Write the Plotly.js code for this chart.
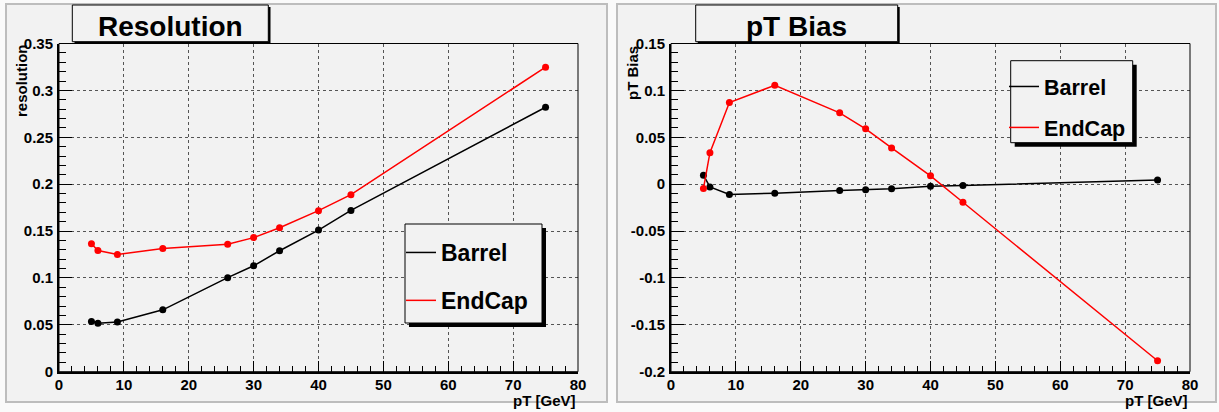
<!DOCTYPE html>
<html>
<head>
<meta charset="utf-8">
<script src="https://cdn.plot.ly/plotly-3.0.1.min.js"></script>
<style>
html,body{margin:0;padding:0;background:#fafafa;}
#chart{width:1219px;height:412px;}
</style>
</head>
<body>
<div id="chart"></div>
<script>
// ---- data ----
const pt = [5, 6, 9, 16, 26, 30, 34, 40, 45, 75];
const resBarrel = [0.0535, 0.0518, 0.0529, 0.066, 0.1003, 0.113, 0.129, 0.151, 0.172, 0.282];
const resEndCap = [0.1364, 0.1292, 0.1249, 0.1314, 0.136, 0.143, 0.1535, 0.1717, 0.1888, 0.3248];
const biasBarrel = [0.0096, -0.003, -0.011, -0.0097, -0.0068, -0.006, -0.005, -0.0022, -0.0015, 0.0043];
const biasEndCap = [-0.0047, 0.0335, 0.0871, 0.1054, 0.0761, 0.059, 0.0386, 0.0089, -0.0193, -0.1883];
const seriesNames = ["Barrel", "EndCap"];
const xTickVals = [0, 10, 20, 30, 40, 50, 60, 70, 80];
const xTickText = ["0", "10", "20", "30", "40", "50", "60", "70", "80"];
const resTickVals = [0, 0.05, 0.1, 0.15, 0.2, 0.25, 0.3, 0.35];
const resTickText = ["0", "0.05", "0.1", "0.15", "0.2", "0.25", "0.3", "0.35"];
const biasTickVals = [-0.2, -0.15, -0.1, -0.05, 0, 0.05, 0.1, 0.15];
const biasTickText = ["-0.2", "-0.15", "-0.1", "-0.05", "0", "0.05", "0.1", "0.15"];
const panelTitles = ["Resolution", "pT Bias"];
const yTitles = ["resolution", "pT Bias"];
const xTitle = "pT [GeV]";

// ---- layout helpers ----
const W = 1219, H = 412;
const fx = p => p / W;
const fy = p => 1 - p / H;
const FONT = "Liberation Sans, Arial, Helvetica, sans-serif";
const colors = ["#000000", "#ff0000"];
const bold = arr => arr.map(t => "<b>" + t + "</b>");

function xAxis(domain, anchor) {
  return {
    domain: domain, anchor: anchor, range: [0, 80],
    tickmode: "array", tickvals: xTickVals, ticktext: bold(xTickText),
    ticks: "inside", ticklen: 11, tickwidth: 1, tickcolor: "#000",
    minor: {dtick: 2, tick0: 0, ticks: "inside", ticklen: 6, tickwidth: 1, tickcolor: "#000", showgrid: false},
    showgrid: true, gridcolor: "#555", griddash: "dot", gridwidth: 1,
    showline: true, linecolor: "#000", linewidth: 2, zeroline: false,
    tickfont: {family: FONT, size: 15, color: "#000", weight: "bold"},
    ticklabelstandoff: -2,
    fixedrange: true
  };
}
function yAxis(domain, anchor, range, vals, text) {
  return {
    domain: domain, anchor: anchor, range: range,
    tickmode: "array", tickvals: vals, ticktext: bold(text),
    ticks: "inside", ticklen: 13, tickwidth: 1, tickcolor: "#000",
    minor: {dtick: 0.01, tick0: 0, ticks: "inside", ticklen: 7, tickwidth: 1, tickcolor: "#000", showgrid: false},
    showgrid: true, gridcolor: "#555", griddash: "dot", gridwidth: 1,
    showline: true, linecolor: "#000", linewidth: 2, zeroline: false,
    tickfont: {family: FONT, size: 15, color: "#000", weight: "bold"},
    ticklabelstandoff: 1,
    fixedrange: true
  };
}

const yDom = [fy(371.7), fy(43.5)];
const sets = [
  {xa: "x", ya: "y", leg: "legend", ys: [resBarrel, resEndCap]},
  {xa: "x2", ya: "y2", leg: "legend2", ys: [biasBarrel, biasEndCap]}
];
const traces = [];
sets.forEach(s => {
  s.ys.forEach((ys, i) => {
    traces.push({
      x: pt, y: ys, xaxis: s.xa, yaxis: s.ya, mode: "lines",
      name: seriesNames[i], legend: s.leg, legendgroup: s.leg + i,
      line: {color: colors[i], width: 1.5}, showlegend: true, hoverinfo: "skip"
    });
    traces.push({
      x: pt, y: ys, xaxis: s.xa, yaxis: s.ya, mode: "markers",
      name: seriesNames[i], legend: s.leg, legendgroup: s.leg + i,
      marker: {color: colors[i], size: 7}, showlegend: false, hoverinfo: "skip"
    });
  });
});

function rectPx(x0, y0, x1, y1, opts) {
  return Object.assign({type: "rect", xref: "paper", yref: "paper",
    x0: fx(x0), x1: fx(x1), y0: fy(y1), y1: fy(y0)}, opts);
}

const shapes = [
  // pads
  rectPx(6, 4, 607, 402, {fillcolor: "#f2f2f2", line: {color: "#bdbdbd", width: 2}, layer: "below"}),
  rectPx(617, 4, 1216, 402, {fillcolor: "#f2f2f2", line: {color: "#bdbdbd", width: 2}, layer: "below"}),
  // frames (thin top/right)
  {type: "rect", xref: "x domain", yref: "y domain", x0: 0, x1: 1, y0: 0, y1: 1, line: {color: "#000", width: 1}, layer: "above"},
  {type: "rect", xref: "x2 domain", yref: "y2 domain", x0: 0, x1: 1, y0: 0, y1: 1, line: {color: "#000", width: 1}, layer: "above"},
  // title boxes with shadow
  rectPx(74.5, 7, 270.5, 44, {fillcolor: "#000", line: {width: 0}, layer: "above"}),
  rectPx(72.3, 5, 268.3, 41.7, {fillcolor: "#f2f2f2", line: {color: "#000", width: 1}, layer: "above"}),
  rectPx(697.7, 7, 899.7, 44, {fillcolor: "#000", line: {width: 0}, layer: "above"}),
  rectPx(695.7, 5, 897.7, 41.7, {fillcolor: "#f2f2f2", line: {color: "#000", width: 1}, layer: "above"}),
  // legend boxes with shadow
  rectPx(409, 228, 546, 327, {fillcolor: "#000", line: {width: 0}, layer: "above"}),
  rectPx(405, 224, 542, 323, {fillcolor: "#f2f2f2", line: {color: "#000", width: 1}, layer: "above"}),
  rectPx(1014.7, 64.7, 1136.7, 146.7, {fillcolor: "#000", line: {width: 0}, layer: "above"}),
  rectPx(1010.7, 60.7, 1132.7, 142.7, {fillcolor: "#f2f2f2", line: {color: "#000", width: 1}, layer: "above"})
];

function ann(text, x, y, size, opts) {
  return Object.assign({text: "<b>" + text + "</b>", xref: "paper", yref: "paper", x: fx(x), y: fy(y),
    showarrow: false, font: {family: FONT, size: size, color: "#000", weight: "bold"}}, opts);
}
const annotations = [
  ann(panelTitles[0], 170.3, 27, 28, {xanchor: "center", yanchor: "middle"}),
  ann(panelTitles[1], 796.7, 27, 28, {xanchor: "center", yanchor: "middle"}),
  ann(xTitle, 578, 400, 15, {xanchor: "right", yanchor: "middle"}),
  ann(xTitle, 1190, 400, 15, {xanchor: "right", yanchor: "middle"}),
  ann(yTitles[0], 21.5, 42, 15, {textangle: -90, xanchor: "center", yanchor: "top"}),
  ann(yTitles[1], 633, 44, 15, {textangle: -90, xanchor: "center", yanchor: "top"})
];

const layout = {
  width: W, height: H,
  margin: {l: 0, r: 0, t: 0, b: 0, pad: 0},
  paper_bgcolor: "#fafafa", plot_bgcolor: "#f2f2f2",
  xaxis: xAxis([fx(59), fx(578)], "y"),
  yaxis: yAxis(yDom, "x", [0, 0.35], resTickVals, resTickText),
  xaxis2: xAxis([fx(671), fx(1190)], "y2"),
  yaxis2: yAxis(yDom, "x2", [-0.2, 0.15], biasTickVals, biasTickText),
  legend: {x: fx(401), y: fy(231), xanchor: "left", yanchor: "top",
    bgcolor: "rgba(0,0,0,0)", borderwidth: 0, traceorder: "grouped", tracegroupgap: 15,
    itemwidth: 30, font: {family: FONT, size: 23, color: "#000", weight: "bold"}},
  legend2: {x: fx(1004), y: fy(66), xanchor: "left", yanchor: "top",
    bgcolor: "rgba(0,0,0,0)", borderwidth: 0, traceorder: "grouped", tracegroupgap: 10,
    itemwidth: 30, font: {family: FONT, size: 21.5, color: "#000", weight: "bold"}},
  shapes: shapes,
  annotations: annotations,
  showlegend: true
};

Plotly.newPlot("chart", traces, layout, {displayModeBar: false, staticPlot: true});
</script>
</body>
</html>
